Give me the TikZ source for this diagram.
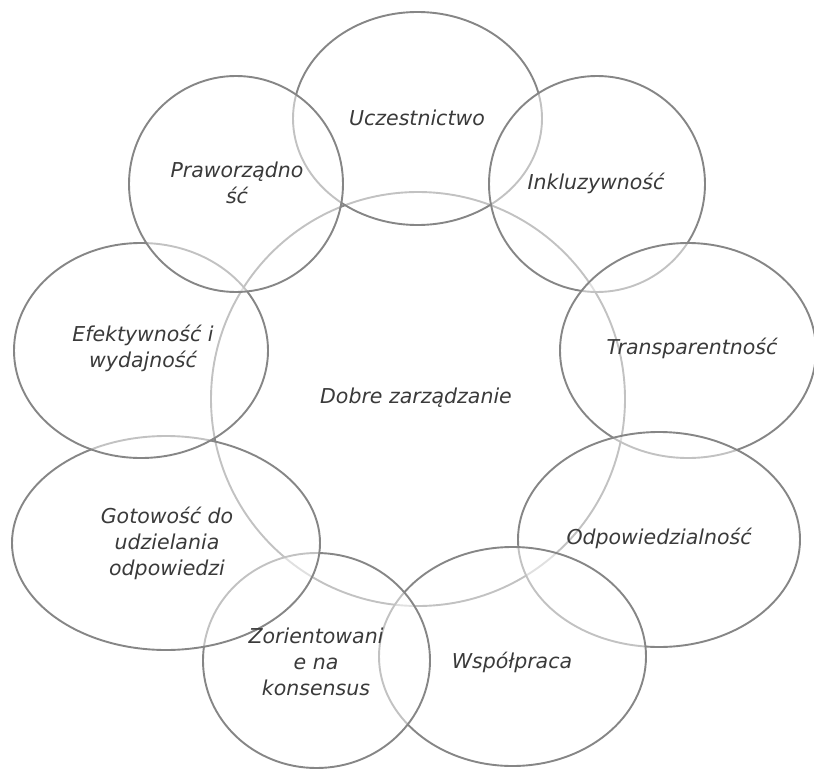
\documentclass[tikz,border=0pt]{standalone}
\usepackage{fontspec}
\setmainfont{DejaVu Sans}
\usetikzlibrary{shapes.geometric}
\definecolor{ringline}{HTML}{868686}
\definecolor{labeltext}{HTML}{3A3A3A}
\begin{document}
\begin{tikzpicture}[x=1pt,y=-1pt,
  ring/.style={ellipse, draw=ringline, line width=1.9pt, fill=white, fill opacity=0.5, inner sep=0pt, outer sep=0pt},
  lbl/.style={text=labeltext, font=\fontsize{20.5}{26}\selectfont\itshape, align=center, inner sep=0pt}]
\useasboundingbox (0,0) rectangle (814,771);
\fill[white] (0,0) rectangle (814,771);
% central circle (drawn first, lightened by the others)
\node[ring, minimum width=414pt, minimum height=414pt] (core) at (418,399) {};
% outer ellipses, clockwise
\node[ring, minimum width=249pt, minimum height=213pt] (ucz) at (417.5,118.5) {};
\node[ring, minimum width=216pt, minimum height=216pt] (ink) at (597,184) {};
\node[ring, minimum width=256pt, minimum height=215pt] (tra) at (688,350.5) {};
\node[ring, minimum width=282pt, minimum height=215pt] (odp) at (659,539.5) {};
\node[ring, minimum width=267pt, minimum height=219pt] (wsp) at (512.5,656.5) {};
\node[ring, minimum width=227pt, minimum height=215pt] (zor) at (316.5,660.5) {};
\node[ring, minimum width=308pt, minimum height=214pt] (got) at (166,543) {};
\node[ring, minimum width=254pt, minimum height=215pt] (efe) at (141,350.5) {};
\node[ring, minimum width=214pt, minimum height=216pt] (pra) at (236,184) {};
% labels
\node[lbl] (tcore) at (416,398) {Dobre zarządzanie};
\node[lbl] (tucz) at (417,118) {Uczestnictwo};
\node[lbl] (tink) at (596,183) {Inkluzywność};
\node[lbl] (ttra) at (692,348) {Transparentność};
\node[lbl] (todp) at (659,538) {Odpowiedzialność};
\node[lbl] (twsp) at (512,662) {Współpraca};
\node[lbl] (tzor) at (316,662) {Zorientowani\\e na\\konsensus};
\node[lbl] (tgot) at (167,543) {Gotowość do\\udzielania\\odpowiedzi};
\node[lbl] (tefe) at (143,348) {Efektywność i\\wydajność};
\node[lbl] (tpra) at (237,183) {Praworządno\\ść};
\end{tikzpicture}
\end{document}
